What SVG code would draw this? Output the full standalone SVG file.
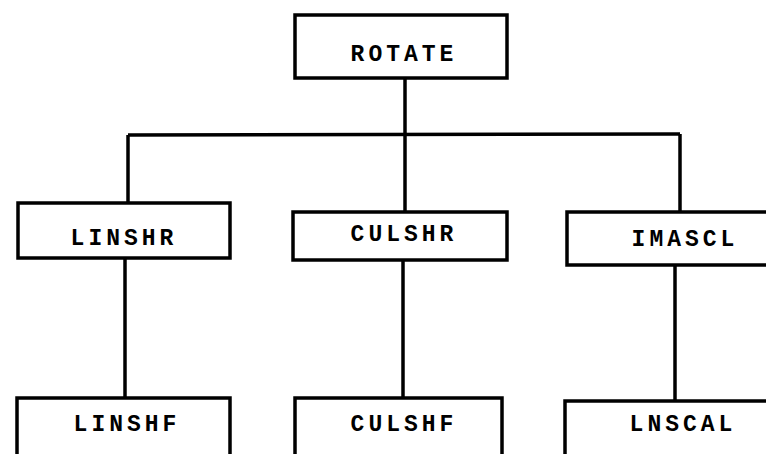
<svg xmlns="http://www.w3.org/2000/svg" width="766" height="454" viewBox="0 0 766 454">
<style>
.box{fill:#fff;stroke:#000;stroke-width:3.5}
.lbl{font-family:"Liberation Mono",monospace;font-size:23px;font-weight:bold;letter-spacing:4px;text-anchor:middle;fill:#000}
.con{fill:none;stroke:#000;stroke-width:3.5}
</style>
<rect width="766" height="454" fill="#fff"/>
<g id="connectors">
<line class="con" x1="405" y1="78" x2="405" y2="135"/>
<line class="con" x1="128" y1="135" x2="680" y2="134"/>
<line class="con" x1="128" y1="135" x2="128" y2="203"/>
<line class="con" x1="405" y1="135" x2="405" y2="212"/>
<line class="con" x1="680" y1="134" x2="680" y2="212"/>
<line class="con" x1="125" y1="258" x2="125" y2="398"/>
<line class="con" x1="403" y1="260" x2="403" y2="398"/>
<line class="con" x1="675" y1="265" x2="675" y2="401"/>
</g>
<g id="rotate"><rect class="box" x="295" y="15" width="212" height="63"/><text class="lbl" x="404" y="61">ROTATE</text></g>
<g id="linshr"><rect class="box" x="18" y="203" width="212" height="55"/><text class="lbl" x="124" y="245">LINSHR</text></g>
<g id="culshr"><rect class="box" x="293" y="212" width="214" height="48"/><text class="lbl" x="404" y="241">CULSHR</text></g>
<g id="imascl"><rect class="box" x="567" y="212" width="215" height="53"/><text class="lbl" x="685" y="246">IMASCL</text></g>
<g id="linshf"><rect class="box" x="17" y="398" width="213" height="70"/><text class="lbl" x="127" y="431">LINSHF</text></g>
<g id="culshf"><rect class="box" x="295" y="398" width="207" height="70"/><text class="lbl" x="404" y="431">CULSHF</text></g>
<g id="lnscal"><rect class="box" x="565" y="401" width="215" height="70"/><text class="lbl" x="683" y="431">LNSCAL</text></g>
</svg>
